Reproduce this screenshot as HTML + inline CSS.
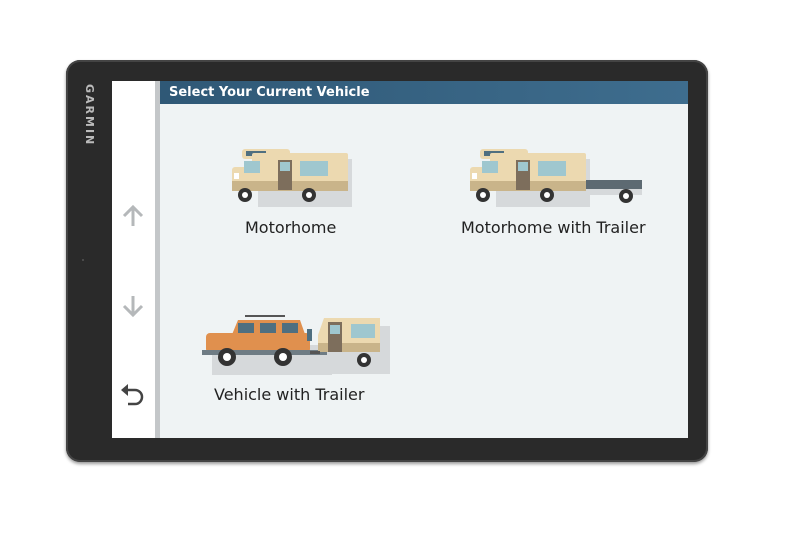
<!DOCTYPE html>
<html><head><style>
body{margin:0;width:800px;height:533px;background:#fff;overflow:hidden;position:relative;font-family:"DejaVu Sans","Liberation Sans",sans-serif}
.dev{position:absolute;left:66px;top:60px;width:642px;height:402px;background:#2a2a2a;border-radius:14px;box-shadow:0 2px 3px #999, inset 0 0 0 2px #444}
.side{position:absolute;left:112px;top:81px;width:43px;height:357px;background:#fff}
.stripe{position:absolute;left:155px;top:81px;width:5px;height:357px;background:#c4c7c9}
.main{position:absolute;left:160px;top:81px;width:528px;height:357px;background:#eff3f4}
.hdr{position:absolute;left:160px;top:81px;width:528px;height:23px;background:linear-gradient(90deg,#2f5876,#3e6d8e);color:#fff;font-weight:bold;font-size:13px;line-height:23px;padding-left:9px;box-sizing:border-box}
.lbl{position:absolute;font-size:16px;color:#222}
.garmin{position:absolute;left:83px;top:84px;color:#bbb;font-size:11px;letter-spacing:2px;writing-mode:vertical-rl;font-weight:bold}
svg{position:absolute;left:0;top:0}
</style></head><body>
<div class="dev"></div>
<div class="garmin">GARMIN</div>
<div class="side"></div><div class="stripe"></div><div class="main"></div>
<div class="hdr">Select Your Current Vehicle</div>
<div class="lbl" style="left:245px;top:218px">Motorhome</div>
<div class="lbl" style="left:461px;top:218px">Motorhome with Trailer</div>
<div class="lbl" style="left:214px;top:385px">Vehicle with Trailer</div>
<svg width="800" height="533">
<defs>
<g id="mh">
<rect x="26" y="16" width="94" height="48" fill="#d6d9db"/>
<rect x="10" y="6" width="48" height="10" rx="3" fill="#ecd9b0"/>
<rect x="14" y="8" width="20" height="5" fill="#4f6f80"/>
<rect x="20" y="10" width="96" height="38" rx="2" fill="#ecd9b0"/>
<rect x="0" y="24" width="30" height="24" rx="3" fill="#ecd9b0"/>
<rect x="0" y="38" width="116" height="10" fill="#c9b48a"/>
<rect x="12" y="18" width="16" height="12" fill="#9fc7cf"/>
<rect x="46" y="17" width="14" height="30" fill="#7d6e5c"/>
<rect x="48" y="19" width="10" height="9" fill="#9fc7cf"/>
<rect x="68" y="18" width="28" height="15" fill="#9fc7cf"/>
<rect x="2" y="30" width="5" height="6" fill="#fff"/>
<circle cx="13" cy="52" r="7" fill="#333"/><circle cx="13" cy="52" r="3" fill="#fff"/>
<circle cx="77" cy="52" r="7" fill="#333"/><circle cx="77" cy="52" r="3" fill="#fff"/>
</g>
</defs>
<use href="#mh" x="232" y="143"/>
<use href="#mh" x="470" y="143"/>
<rect x="586" y="185" width="56" height="10" fill="#d6d9db"/>
<rect x="586" y="180" width="56" height="9" fill="#5d6a72"/>
<circle cx="626" cy="196" r="7" fill="#333"/><circle cx="626" cy="196" r="3" fill="#fff"/>
<!-- car -->
<rect x="212" y="345" width="120" height="30" fill="#d6d9db"/>
<rect x="245" y="315" width="40" height="2" fill="#555"/>
<path d="M231 337 L238 320 L300 320 L306 337 Z" fill="#e0904e"/>
<rect x="206" y="333" width="104" height="20" rx="4" fill="#e0904e"/>
<rect x="238" y="323" width="16" height="10" fill="#4f6f80"/><rect x="260" y="323" width="16" height="10" fill="#4f6f80"/><rect x="282" y="323" width="16" height="10" fill="#4f6f80"/>
<rect x="202" y="350" width="125" height="5" fill="#6f7c84"/>
<rect x="307" y="329" width="5" height="12" fill="#4f6f80"/>
<circle cx="227" cy="357" r="9" fill="#333"/><circle cx="227" cy="357" r="4" fill="#fff"/>
<circle cx="283" cy="357" r="9" fill="#333"/><circle cx="283" cy="357" r="4" fill="#fff"/>
<!-- trailer -->
<rect x="330" y="326" width="60" height="48" fill="#d6d9db"/>
<path d="M318 335 L324 318 L380 318 L380 352 L318 352 Z" fill="#ecd9b0"/>
<rect x="318" y="343" width="62" height="9" fill="#c9b48a"/>
<rect x="328" y="322" width="14" height="30" fill="#7d6e5c"/><rect x="330" y="325" width="10" height="9" fill="#9fc7cf"/>
<rect x="351" y="324" width="24" height="14" fill="#9fc7cf"/>
<rect x="310" y="351" width="10" height="3" fill="#555"/>
<circle cx="364" cy="360" r="7" fill="#333"/><circle cx="364" cy="360" r="3" fill="#fff"/>
<!-- arrows -->
<g stroke="#b5b8ba" stroke-width="3" fill="none">
<path d="M133 226 V208 M124 216 L133 207 L142 216"/>
<path d="M133 296 V314 M124 306 L133 315 L142 306"/>
</g>
<path d="M126 390 L135 390 A7 7 0 0 1 135 404 L128 404" stroke="#444" stroke-width="2.5" fill="none"/>
<path d="M121 390 L128 384 L128 396 Z" fill="#444"/>
<circle cx="83" cy="260" r="1" fill="#555"/>
</svg>
</body></html>
